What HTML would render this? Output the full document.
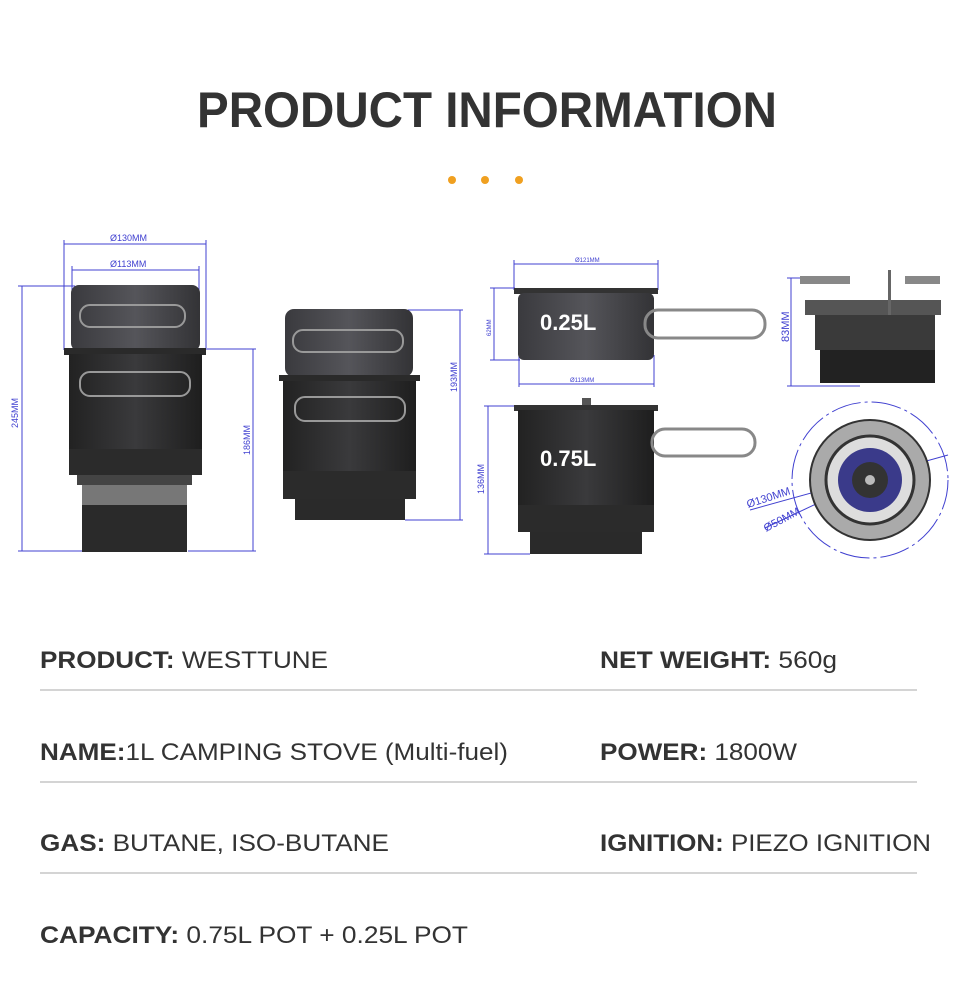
<!DOCTYPE html>
<html><head><meta charset="utf-8"><style>
html,body{margin:0;padding:0;background:#fff;}
svg{display:block;}
text{font-family:"Liberation Sans",Arial,sans-serif;}
</style></head><body>
<svg width="970" height="1005" viewBox="0 0 970 1005" xmlns="http://www.w3.org/2000/svg">
<defs>
<linearGradient id="g1" x1="0" x2="1"><stop offset="0" stop-color="#3a3a3e"/><stop offset=".5" stop-color="#55555a"/><stop offset="1" stop-color="#333336"/></linearGradient>
<linearGradient id="g2" x1="0" x2="1"><stop offset="0" stop-color="#222"/><stop offset=".5" stop-color="#3a3a3c"/><stop offset="1" stop-color="#1e1e1e"/></linearGradient>
</defs>
<rect width="970" height="1005" fill="#fff"/>
<text x="197" y="127" font-size="50" font-weight="bold" fill="#333" textLength="580" lengthAdjust="spacingAndGlyphs">PRODUCT INFORMATION</text>
<circle cx="452" cy="180" r="4" fill="#f0a020"/><circle cx="485" cy="180" r="4" fill="#f0a020"/><circle cx="519" cy="180" r="4" fill="#f0a020"/>

<g stroke="#4040d0" stroke-width="1" fill="none">
<line x1="64" y1="244" x2="206" y2="244"/><line x1="64" y1="240" x2="64" y2="350"/><line x1="206" y1="240" x2="206" y2="350"/>
<line x1="72" y1="270" x2="199" y2="270"/><line x1="72" y1="266" x2="72" y2="290"/><line x1="199" y1="266" x2="199" y2="290"/>
<line x1="22" y1="286" x2="22" y2="551"/><line x1="18" y1="286" x2="75" y2="286"/><line x1="18" y1="551" x2="82" y2="551"/>
<line x1="253" y1="349" x2="253" y2="551"/><line x1="207" y1="349" x2="256" y2="349"/><line x1="188" y1="551" x2="256" y2="551"/>
<line x1="460" y1="310" x2="460" y2="520"/><line x1="408" y1="310" x2="463" y2="310"/><line x1="405" y1="520" x2="463" y2="520"/>
<line x1="514" y1="264" x2="658" y2="264"/><line x1="514" y1="260" x2="514" y2="290"/><line x1="658" y1="260" x2="658" y2="290"/>
<line x1="519" y1="384" x2="654" y2="384"/><line x1="519" y1="355" x2="519" y2="387"/><line x1="654" y1="355" x2="654" y2="387"/>
<line x1="494" y1="288" x2="494" y2="360"/><line x1="490" y1="288" x2="515" y2="288"/><line x1="490" y1="360" x2="520" y2="360"/>
<line x1="488" y1="406" x2="488" y2="554"/><line x1="484" y1="406" x2="515" y2="406"/><line x1="484" y1="554" x2="530" y2="554"/>
<line x1="791" y1="278" x2="791" y2="386"/><line x1="787" y1="278" x2="805" y2="278"/><line x1="787" y1="386" x2="860" y2="386"/>
<circle cx="870" cy="480" r="78" stroke-dasharray="30 4 3 4"/>
<line x1="750" y1="510" x2="948" y2="455"/><line x1="765" y1="528" x2="920" y2="455"/>
</g>
<g fill="#4040d0" font-size="9">
<text x="110" y="241">Ø130MM</text><text x="110" y="267">Ø113MM</text>
<text x="575" y="262" font-size="6">Ø121MM</text><text x="570" y="382" font-size="6">Ø113MM</text>
<text transform="translate(18,428) rotate(-90)">245MM</text>
<text transform="translate(250,455) rotate(-90)">186MM</text>
<text transform="translate(457,392) rotate(-90)">193MM</text>
<text transform="translate(491,336) rotate(-90)" font-size="6">62MM</text>
<text transform="translate(484,494) rotate(-90)">136MM</text>
<text transform="translate(789,342) rotate(-90)" font-size="11">83MM</text>
<text transform="translate(748,508) rotate(-18)" font-size="11">Ø130MM</text>
<text transform="translate(766,532) rotate(-28)" font-size="11">Ø50MM</text>
</g>

<rect x="71" y="285" width="129" height="66" rx="8" fill="url(#g1)"/>
<rect x="64" y="348" width="142" height="7" fill="#2a2a2a"/>
<rect x="69" y="354" width="133" height="95" fill="url(#g2)"/>
<rect x="69" y="449" width="133" height="26" fill="#2b2b2b"/>
<rect x="77" y="475" width="115" height="10" fill="#444"/>
<rect x="82" y="485" width="105" height="20" fill="#777"/>
<rect x="82" y="505" width="105" height="47" fill="#2a2a2a"/>
<rect x="80" y="305" width="105" height="22" rx="10" fill="none" stroke="#999" stroke-width="2"/>
<rect x="80" y="372" width="110" height="24" rx="10" fill="none" stroke="#999" stroke-width="2"/>
<rect x="285" y="309" width="128" height="68" rx="9" fill="url(#g1)"/>
<rect x="279" y="375" width="141" height="6" fill="#2a2a2a"/>
<rect x="283" y="381" width="133" height="90" fill="url(#g2)"/>
<rect x="283" y="471" width="133" height="28" fill="#2b2b2b"/>
<rect x="295" y="499" width="110" height="21" fill="#2a2a2a"/>
<rect x="293" y="330" width="110" height="22" rx="10" fill="none" stroke="#999" stroke-width="2"/>
<rect x="295" y="397" width="110" height="24" rx="10" fill="none" stroke="#999" stroke-width="2"/>
<rect x="514" y="288" width="144" height="6" fill="#333"/>
<rect x="518" y="293" width="136" height="67" rx="6" fill="url(#g1)"/>
<rect x="645" y="310" width="120" height="28" rx="13" fill="none" stroke="#888" stroke-width="3"/>
<text x="540" y="330" font-size="22" font-weight="bold" fill="#fff">0.25L</text>
<rect x="582" y="398" width="9" height="10" fill="#555"/>
<rect x="514" y="405" width="144" height="6" fill="#333"/>
<rect x="518" y="410" width="136" height="98" fill="url(#g2)"/>
<rect x="518" y="505" width="136" height="27" fill="#2b2b2b"/>
<rect x="530" y="532" width="112" height="22" fill="#2a2a2a"/>
<rect x="652" y="429" width="103" height="27" rx="13" fill="none" stroke="#888" stroke-width="3"/>
<text x="540" y="466" font-size="22" font-weight="bold" fill="#fff">0.75L</text>
<rect x="805" y="300" width="136" height="15" fill="#555"/>
<rect x="815" y="315" width="120" height="35" fill="#3a3a3a"/>
<rect x="820" y="350" width="115" height="33" fill="#222"/>
<rect x="800" y="276" width="50" height="8" fill="#888"/><rect x="905" y="276" width="35" height="8" fill="#888"/><rect x="888" y="270" width="3" height="45" fill="#666"/>
<circle cx="870" cy="480" r="60" fill="#aaa" stroke="#333" stroke-width="2"/>
<circle cx="870" cy="480" r="44" fill="#ddd" stroke="#333" stroke-width="3"/>
<circle cx="870" cy="480" r="32" fill="#3a3a8a"/>
<circle cx="870" cy="480" r="18" fill="#333"/>
<circle cx="870" cy="480" r="5" fill="#bbb"/>

<g font-size="24" fill="#333">
<text x="40" y="668" textLength="288" lengthAdjust="spacingAndGlyphs"><tspan font-weight="bold">PRODUCT:</tspan> WESTTUNE</text>
<text x="600" y="668" textLength="237" lengthAdjust="spacingAndGlyphs"><tspan font-weight="bold">NET WEIGHT:</tspan> 560g</text>
<text x="40" y="760" textLength="468" lengthAdjust="spacingAndGlyphs"><tspan font-weight="bold">NAME:</tspan>1L CAMPING STOVE (Multi-fuel)</text>
<text x="600" y="760" textLength="197" lengthAdjust="spacingAndGlyphs"><tspan font-weight="bold">POWER:</tspan> 1800W</text>
<text x="40" y="851" textLength="349" lengthAdjust="spacingAndGlyphs"><tspan font-weight="bold">GAS:</tspan> BUTANE, ISO-BUTANE</text>
<text x="600" y="851" textLength="331" lengthAdjust="spacingAndGlyphs"><tspan font-weight="bold">IGNITION:</tspan> PIEZO IGNITION</text>
<text x="40" y="943" textLength="428" lengthAdjust="spacingAndGlyphs"><tspan font-weight="bold">CAPACITY:</tspan> 0.75L POT + 0.25L POT</text>
</g>
<g fill="#d4d4d4">
<rect x="40" y="689" width="877" height="2"/>
<rect x="40" y="781" width="877" height="2"/>
<rect x="40" y="872" width="877" height="2"/>
</g>
</svg>
</body></html>
